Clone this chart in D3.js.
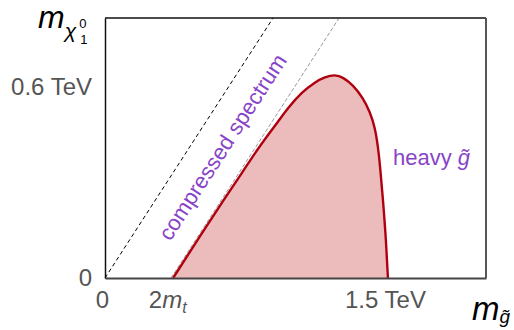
<!DOCTYPE html>
<html><head><meta charset="utf-8">
<script src="https://cdn.jsdelivr.net/npm/d3@7"></script>
<style>
html,body{margin:0;padding:0;background:#fff;}
svg text{font-family:"Liberation Sans",Arial,Helvetica,sans-serif;}
</style>
</head><body>
<svg id="chart" width="514" height="330"></svg>
<script>
// ---- data (TeV) ----
const xTicks = [0, 0.346, 1.5];
const xTickLabels = ["0", "2m_t", "1.5 TeV"];
const yTicks = [0, 0.6];
const yTickLabels = ["0", "0.6 TeV"];
// excluded region boundary: gluino mass, neutralino mass
const boundaryMg  = [0.361,0.504,0.636,0.726,0.795,0.864,0.917,0.970,1.045,1.113,1.166,1.220,1.262,1.315,1.368,1.405,1.432,1.448,1.458,1.474,1.490,1.500];
const boundaryMchi= [0,    0.132,0.252,0.330,0.393,0.450,0.491,0.535,0.585,0.616,0.632,0.640,0.631,0.607,0.566,0.522,0.472,0.409,0.355,0.245,0.119,0];
const diagMg = [0, 0.891], diagMchi = [0, 0.8176];
const kinMg  = [0.35, 1.241], kinMchi = [0, 0.8176];

const svg = d3.select("#chart");
const L = 105, R = 486, T = 18, B = 278;
const x = d3.scaleLinear().domain([0, 2.02]).range([L, R]);
const y = d3.scaleLinear().domain([0, 0.8176]).range([B, T]);

const pts = boundaryMg.map((m,i)=>[m, boundaryMchi[i]]);
const area = d3.area().x(d=>x(d[0])).y0(y(0)).y1(d=>y(d[1])).curve(d3.curveBasis);
const line = d3.line().x(d=>x(d[0])).y(d=>y(d[1])).curve(d3.curveBasis);

svg.append("path").datum(pts).attr("d", area).attr("fill", "#ecbcbd");

const lineSimple = d3.line().x(d=>x(d[0])).y(d=>y(d[1]));
svg.append("path").datum(diagMg.map((m,i)=>[m,diagMchi[i]])).attr("d", lineSimple)
  .attr("stroke", "#000").attr("stroke-width", 1).attr("stroke-dasharray", "4,3").attr("fill","none");
svg.append("path").datum(kinMg.map((m,i)=>[m,kinMchi[i]])).attr("d", lineSimple)
  .attr("stroke", "#999").attr("stroke-width", 1).attr("stroke-dasharray", "4,2").attr("fill","none");

svg.append("path").datum(pts).attr("d", line).attr("fill","none")
  .attr("stroke", "#b00010").attr("stroke-width", 2.4);

// frame
svg.append("line").attr("x1",L).attr("x2",R).attr("y1",T).attr("y2",T).attr("stroke","#111").attr("stroke-width",1.5);
svg.append("line").attr("x1",R).attr("x2",R).attr("y1",T).attr("y2",B).attr("stroke","#444").attr("stroke-width",1.8);

// axes
const gx = svg.append("g").attr("transform", `translate(0,${B})`)
  .call(d3.axisBottom(x).tickValues(xTicks).tickSize(0).tickPadding(0).tickFormat((d,i)=>""));
gx.select(".domain").attr("stroke","#444").attr("stroke-width",1.8);
gx.selectAll(".tick text").each(function(d,i){
  const t = d3.select(this).attr("fill","#555").attr("font-size",24).attr("dx",-3).attr("y",30).attr("dy",0);
  const lab = xTickLabels[i];
  if (lab === "2m_t") {
    t.append("tspan").text("2");
    t.append("tspan").attr("font-style","italic").text("m");
    t.append("tspan").attr("font-style","italic").attr("font-size",16).attr("dy",5).text("t");
  } else t.text(lab);
});

const gy = svg.append("g").attr("transform", `translate(${L},0)`)
  .call(d3.axisLeft(y).tickValues(yTicks).tickSize(0).tickPadding(13).tickFormat((d,i)=>yTickLabels[i]));
gy.select(".domain").attr("stroke","#111").attr("stroke-width",1.5);
gy.selectAll(".tick text").attr("fill","#555").attr("font-size",24).attr("font-family","Liberation Sans, Arial, sans-serif");
gx.selectAll(".tick text").attr("font-family","Liberation Sans, Arial, sans-serif");

// axis titles (single text elements with tspans)
const yt = svg.append("text").attr("x",38).attr("y",28).attr("font-size",32).attr("font-style","italic");
yt.append("tspan").text("m");
yt.append("tspan").attr("font-size",21).attr("dy",10).text("χ");
const sup = yt.append("tspan").attr("font-size",13).attr("font-style","normal").attr("dy",-10).attr("dx",3).text("0");
const sub = yt.append("tspan").attr("font-size",13).attr("font-style","normal").attr("dy",16).text("1");
// stack subscript under superscript
const supW = sup.node().getComputedTextLength();
sub.attr("dx", -supW + 1);

const xt = svg.append("text").attr("x",472).attr("y",320).attr("font-size",33).attr("font-style","italic");
xt.append("tspan").text("m");
xt.append("tspan").attr("font-size",19).attr("dy",3).text("g\u0303");

// annotations
const ang = Math.atan2(y(kinMchi[0])-y(kinMchi[1]), x(kinMg[1])-x(kinMg[0]))*180/Math.PI;
svg.append("text").attr("transform", `translate(224,148) rotate(${-ang})`)
  .attr("text-anchor","middle").attr("dominant-baseline","middle")
  .attr("font-size",22).attr("fill","#8844c8").text("compressed spectrum");
const hv = svg.append("text").attr("x",393).attr("y",165).attr("font-size",22).attr("fill","#8844c8");
hv.append("tspan").text("heavy ");
hv.append("tspan").attr("font-style","italic").text("g\u0303");
</script>
</body></html>
